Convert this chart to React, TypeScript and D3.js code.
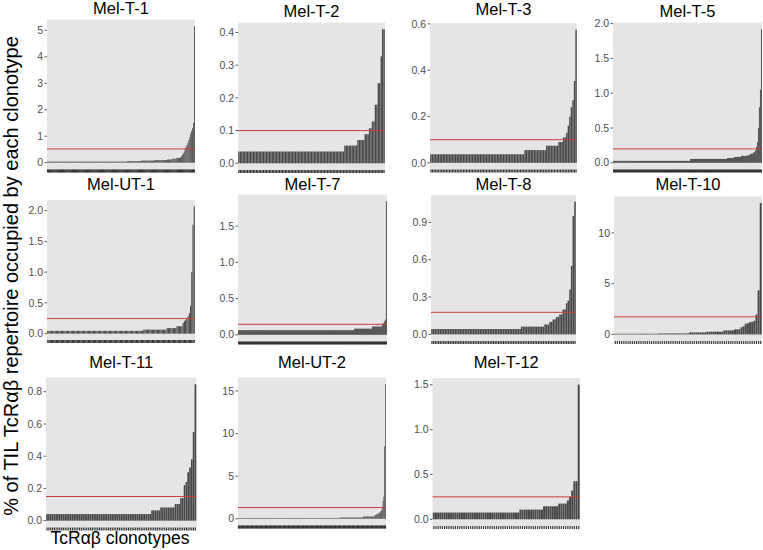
import React from "react";
import * as d3 from "d3";

const W = 763;
const H = 550;

const panelNames = [
  "Mel-T-1", "Mel-T-2", "Mel-T-3", "Mel-T-5",
  "Mel-UT-1", "Mel-T-7", "Mel-T-8", "Mel-T-10",
  "Mel-T-11", "Mel-UT-2", "Mel-T-12",
];

// % of repertoire occupied by each clonotype (sorted ascending)
const melT1 = [
  0.04, 0.04, 0.04, 0.04, 0.04, 0.04, 0.04, 0.04, 0.04, 0.04,
  0.04, 0.04, 0.04, 0.04, 0.04, 0.04, 0.04, 0.04, 0.04, 0.04,
  0.04, 0.04, 0.04, 0.04, 0.04, 0.04, 0.04, 0.04, 0.04, 0.04,
  0.04, 0.04, 0.04, 0.04, 0.04, 0.04, 0.04, 0.04, 0.04, 0.04,
  0.04, 0.04, 0.04, 0.04, 0.04, 0.04, 0.04, 0.04, 0.04, 0.04,
  0.04, 0.04, 0.04, 0.04, 0.04, 0.04, 0.04, 0.04, 0.04, 0.04,
  0.04, 0.04, 0.04, 0.04, 0.04, 0.04, 0.04, 0.04, 0.04, 0.04,
  0.04, 0.04, 0.04, 0.04, 0.04, 0.04, 0.04, 0.04, 0.04, 0.04,
  0.04, 0.04, 0.04, 0.04, 0.04, 0.04,
  0.06, 0.06, 0.06, 0.06, 0.06, 0.06, 0.06, 0.06, 0.06, 0.06,
  0.06, 0.06, 0.06, 0.06, 0.06,
  0.08, 0.08, 0.08, 0.08, 0.08, 0.08, 0.08, 0.08, 0.08, 0.08,
  0.08, 0.08, 0.08, 0.08, 0.08,
  0.1, 0.1, 0.1, 0.1, 0.1, 0.1, 0.1, 0.1, 0.1, 0.1,
  0.1, 0.1, 0.1,
  0.12, 0.12, 0.12, 0.12, 0.12,
  0.15, 0.15, 0.15, 0.15, 0.15,
  0.18, 0.18, 0.18, 0.18,
  0.2, 0.24, 0.3, 0.35, 0.42,
  0.55, 0.6, 0.67, 0.75, 0.85, 0.95, 1.1, 1.2, 1.3, 1.5,
  5.15,
];

const melT2 = [
  0.036, 0.036, 0.036, 0.036, 0.036, 0.036, 0.036, 0.036, 0.036, 0.036,
  0.036, 0.036, 0.036, 0.036, 0.036, 0.036, 0.036, 0.036, 0.036, 0.036,
  0.036, 0.036, 0.036, 0.036, 0.036, 0.036, 0.036, 0.036, 0.036, 0.036,
  0.036, 0.036, 0.036, 0.036, 0.036, 0.036, 0.036, 0.036, 0.036, 0.036,
  0.036, 0.036, 0.036, 0.036, 0.036, 0.036, 0.036, 0.036, 0.036, 0.036,
  0.036, 0.036, 0.036, 0.036, 0.036, 0.036, 0.036, 0.036, 0.036, 0.036,
  0.036, 0.036, 0.036, 0.036, 0.036, 0.036, 0.036, 0.036, 0.036, 0.036,
  0.036, 0.036, 0.036,
  0.054, 0.054, 0.054, 0.054, 0.054, 0.054, 0.054, 0.054, 0.054,
  0.071, 0.071, 0.071, 0.071, 0.071,
  0.089, 0.089, 0.089,
  0.107, 0.107, 0.128, 0.128, 0.179, 0.179, 0.245, 0.245, 0.327, 0.41, 0.41,
];

const melT3 = [
  0.037, 0.037, 0.037, 0.037, 0.037, 0.037, 0.037, 0.037, 0.037, 0.037,
  0.037, 0.037, 0.037, 0.037, 0.037, 0.037, 0.037, 0.037, 0.037, 0.037,
  0.037, 0.037, 0.037, 0.037, 0.037, 0.037, 0.037, 0.037, 0.037, 0.037,
  0.037, 0.037, 0.037, 0.037, 0.037, 0.037, 0.037, 0.037, 0.037, 0.037,
  0.037, 0.037, 0.037, 0.037, 0.037, 0.037, 0.037, 0.037, 0.037, 0.037,
  0.037, 0.037, 0.037, 0.037, 0.037, 0.037, 0.037, 0.037, 0.037, 0.037,
  0.037,
  0.055, 0.055, 0.055, 0.055, 0.055, 0.055, 0.055, 0.055, 0.055, 0.055,
  0.055, 0.055, 0.055, 0.055,
  0.074, 0.074, 0.074, 0.074, 0.074, 0.074, 0.074, 0.074,
  0.09, 0.09, 0.09,
  0.11, 0.11,
  0.13, 0.16, 0.2, 0.24, 0.27, 0.353, 0.575,
];

const melT5 = [
  0.028, 0.028, 0.028, 0.028, 0.028, 0.028, 0.028, 0.028, 0.028, 0.028,
  0.028, 0.028, 0.028, 0.028, 0.028, 0.028, 0.028, 0.028, 0.028, 0.028,
  0.028, 0.028, 0.028, 0.028, 0.028, 0.028, 0.028, 0.028, 0.028, 0.028,
  0.028, 0.028, 0.028, 0.028, 0.028, 0.028, 0.028, 0.028, 0.028, 0.028,
  0.028, 0.028, 0.028, 0.028, 0.028, 0.028, 0.028, 0.028, 0.028, 0.028,
  0.028, 0.028, 0.028, 0.028, 0.028, 0.028, 0.028, 0.028, 0.028, 0.028,
  0.028, 0.028, 0.028, 0.028, 0.028, 0.028, 0.028, 0.028, 0.028, 0.028,
  0.028, 0.028, 0.028, 0.028, 0.028, 0.028, 0.028,
  0.056, 0.056, 0.056, 0.056, 0.056, 0.056, 0.056, 0.056, 0.056, 0.056,
  0.056, 0.056, 0.056, 0.056, 0.056, 0.056, 0.056, 0.056, 0.056, 0.056,
  0.056, 0.056, 0.056, 0.056, 0.056, 0.056, 0.056, 0.056, 0.056, 0.056,
  0.056, 0.056, 0.056, 0.056, 0.056, 0.056, 0.056,
  0.07, 0.07, 0.07, 0.07, 0.07, 0.07, 0.07,
  0.085, 0.085, 0.085, 0.085, 0.085, 0.085, 0.085,
  0.1, 0.1, 0.1, 0.1, 0.1, 0.1,
  0.11, 0.11, 0.11, 0.13, 0.13, 0.13, 0.15, 0.15,
  0.18, 0.23, 0.3, 0.5, 0.8, 1.05, 1.92,
];

const melUT1 = [
  0.045, 0.045, 0.045, 0.045, 0.045, 0.045, 0.045, 0.045, 0.045, 0.045,
  0.045, 0.045, 0.045, 0.045, 0.045, 0.045, 0.045, 0.045, 0.045, 0.045,
  0.045, 0.045, 0.045, 0.045, 0.045, 0.045, 0.045, 0.045, 0.045, 0.045,
  0.045, 0.045, 0.045, 0.045, 0.045, 0.045, 0.045, 0.045, 0.045, 0.045,
  0.045, 0.045, 0.045, 0.045, 0.045, 0.045, 0.045, 0.045, 0.045, 0.045,
  0.045, 0.045, 0.045, 0.045, 0.045, 0.045, 0.045, 0.045, 0.045, 0.045,
  0.045, 0.045, 0.045, 0.045, 0.045, 0.045, 0.045, 0.045, 0.045, 0.045,
  0.045, 0.045, 0.045, 0.045, 0.045, 0.045, 0.045, 0.045,
  0.065, 0.065, 0.065, 0.065, 0.065, 0.065, 0.065, 0.065, 0.065, 0.065,
  0.065, 0.065, 0.065, 0.065, 0.065, 0.065, 0.065, 0.065, 0.065,
  0.09, 0.09, 0.09, 0.09, 0.09, 0.09, 0.09, 0.09,
  0.12, 0.12, 0.12, 0.12, 0.12,
  0.17, 0.2, 0.22, 0.25,
  0.28, 0.33, 0.45, 1.0, 1.77, 2.07,
];

const melT7 = [
  0.064, 0.064, 0.064, 0.064, 0.064, 0.064, 0.064, 0.064, 0.064, 0.064,
  0.064, 0.064, 0.064, 0.064, 0.064, 0.064, 0.064, 0.064, 0.064, 0.064,
  0.064, 0.064, 0.064, 0.064, 0.064, 0.064, 0.064, 0.064, 0.064, 0.064,
  0.064, 0.064, 0.064, 0.064, 0.064, 0.064, 0.064, 0.064, 0.064, 0.064,
  0.064, 0.064, 0.064, 0.064, 0.064, 0.064, 0.064, 0.064, 0.064, 0.064,
  0.064, 0.064, 0.064, 0.064, 0.064, 0.064, 0.064, 0.064, 0.064, 0.064,
  0.064, 0.064, 0.064, 0.064, 0.064, 0.064, 0.064, 0.064, 0.064, 0.064,
  0.064, 0.064, 0.064, 0.064, 0.064, 0.064, 0.064, 0.064, 0.064, 0.064,
  0.064, 0.064, 0.064, 0.064, 0.064, 0.064, 0.064, 0.064, 0.064, 0.064,
  0.064, 0.064, 0.064, 0.064, 0.064, 0.064, 0.064, 0.064, 0.064, 0.064,
  0.064, 0.064, 0.064, 0.064, 0.064, 0.064, 0.064, 0.064, 0.064, 0.064,
  0.064, 0.064, 0.064, 0.064, 0.064, 0.064,
  0.085, 0.085, 0.085, 0.085, 0.085, 0.085, 0.085, 0.085, 0.085, 0.085,
  0.085, 0.085, 0.085, 0.085, 0.085, 0.085, 0.085, 0.085,
  0.115, 0.115, 0.115, 0.115, 0.115, 0.115, 0.115, 0.115, 0.115, 0.115,
  0.15, 0.16, 0.185, 0.21, 1.846,
];

const melT8 = [
  0.043, 0.043, 0.043, 0.043, 0.043, 0.043, 0.043, 0.043, 0.043, 0.043,
  0.043, 0.043, 0.043, 0.043, 0.043, 0.043, 0.043, 0.043, 0.043, 0.043,
  0.043, 0.043, 0.043, 0.043, 0.043, 0.043, 0.043, 0.043, 0.043, 0.043,
  0.043, 0.043, 0.043, 0.043, 0.043, 0.043, 0.043, 0.043, 0.043, 0.043,
  0.043, 0.043, 0.043, 0.043, 0.043, 0.043, 0.043, 0.043, 0.043, 0.043,
  0.043, 0.043, 0.043, 0.043,
  0.062, 0.062, 0.062, 0.062, 0.062, 0.062, 0.062, 0.062, 0.062, 0.062,
  0.062, 0.062, 0.062, 0.062,
  0.08, 0.08, 0.08,
  0.1, 0.1, 0.12, 0.12, 0.14, 0.14, 0.16, 0.16, 0.2, 0.2,
  0.25, 0.27, 0.36, 0.55, 0.95, 1.066,
];

const melT10 = [
  0.07, 0.07, 0.07, 0.07, 0.07, 0.07, 0.07, 0.07, 0.07, 0.07,
  0.07, 0.07, 0.07, 0.07, 0.07, 0.07, 0.07, 0.07, 0.07, 0.07,
  0.07,
  0.1, 0.1, 0.1, 0.1, 0.1, 0.1, 0.1, 0.1, 0.1, 0.1,
  0.1, 0.1, 0.1, 0.1,
  0.2, 0.2, 0.2, 0.2, 0.2, 0.2, 0.2, 0.2,
  0.27, 0.27, 0.27, 0.27, 0.27, 0.27, 0.27, 0.27,
  0.4, 0.4, 0.4, 0.4, 0.4,
  0.5, 0.5, 0.5,
  0.7, 0.8, 1.05, 1.1, 1.2, 1.24, 1.34, 1.96, 4.35, 12.94,
];

const melT11 = [
  0.041, 0.041, 0.041, 0.041, 0.041, 0.041, 0.041, 0.041, 0.041, 0.041,
  0.041, 0.041, 0.041, 0.041, 0.041, 0.041, 0.041, 0.041, 0.041, 0.041,
  0.041, 0.041, 0.041, 0.041, 0.041, 0.041, 0.041, 0.041, 0.041, 0.041,
  0.041, 0.041, 0.041, 0.041, 0.041, 0.041, 0.041, 0.041, 0.041, 0.041,
  0.041, 0.041, 0.041, 0.041, 0.041, 0.041, 0.041, 0.041, 0.041, 0.041,
  0.041, 0.041, 0.041, 0.041, 0.041, 0.041, 0.041, 0.041,
  0.064, 0.064, 0.064, 0.064, 0.064,
  0.082, 0.082, 0.082, 0.082, 0.082, 0.082, 0.082, 0.082,
  0.103, 0.103, 0.103,
  0.14, 0.14, 0.22, 0.24, 0.3, 0.33, 0.38, 0.55, 0.846,
];

const melUT2 = [
  0.08, 0.08, 0.08, 0.08, 0.08, 0.08, 0.08, 0.08, 0.08, 0.08,
  0.08, 0.08, 0.08, 0.08, 0.08, 0.08, 0.08, 0.08, 0.08, 0.08,
  0.08, 0.08, 0.08, 0.08, 0.08, 0.08, 0.08, 0.08, 0.08, 0.08,
  0.08, 0.08, 0.08, 0.08, 0.08, 0.08, 0.08, 0.08, 0.08, 0.08,
  0.08, 0.08, 0.08, 0.08, 0.08, 0.08, 0.08, 0.08, 0.08, 0.08,
  0.08, 0.08, 0.08, 0.08, 0.08, 0.08, 0.08, 0.08, 0.08, 0.08,
  0.08, 0.08, 0.08, 0.08, 0.08, 0.08, 0.08, 0.08, 0.08, 0.08,
  0.08, 0.08, 0.08, 0.08, 0.08, 0.08, 0.08, 0.08, 0.08, 0.08,
  0.08, 0.08, 0.08, 0.08, 0.08, 0.08, 0.08, 0.08, 0.08, 0.08,
  0.08, 0.08, 0.08, 0.08, 0.08, 0.08, 0.08, 0.08, 0.08, 0.08,
  0.08, 0.08, 0.08, 0.08, 0.08, 0.08, 0.08, 0.08, 0.08, 0.08,
  0.08, 0.08, 0.08, 0.08, 0.08, 0.08, 0.08, 0.08, 0.08, 0.08,
  0.08, 0.08, 0.08, 0.08,
  0.15, 0.15, 0.15, 0.15, 0.15, 0.15, 0.15, 0.15, 0.15, 0.15,
  0.15, 0.15, 0.15, 0.15, 0.15, 0.15, 0.15, 0.15, 0.15, 0.15,
  0.15, 0.15, 0.15, 0.15, 0.15, 0.15, 0.15, 0.15,
  0.27, 0.27, 0.27, 0.27, 0.27, 0.27, 0.27, 0.27, 0.27, 0.27,
  0.27, 0.27, 0.27, 0.27,
  0.4, 0.45, 0.5, 0.55, 0.6, 0.65,
  0.75, 0.86, 1.0,
  1.45, 2.1, 2.6, 8.5, 15.8,
];

const melT12 = [
  0.075, 0.075, 0.075, 0.075, 0.075, 0.075, 0.075, 0.075, 0.075, 0.075,
  0.075, 0.075, 0.075, 0.075, 0.075, 0.075, 0.075, 0.075, 0.075, 0.075,
  0.075, 0.075, 0.075, 0.075, 0.075, 0.075, 0.075, 0.075, 0.075, 0.075,
  0.075, 0.075, 0.075, 0.075, 0.075, 0.075, 0.075, 0.075, 0.075, 0.075,
  0.108, 0.108, 0.108, 0.108, 0.108, 0.108, 0.108, 0.108, 0.108, 0.108,
  0.108,
  0.145, 0.145, 0.145, 0.145, 0.145, 0.145, 0.145,
  0.175, 0.175, 0.175, 0.175,
  0.21, 0.25, 0.32, 0.425, 0.425, 1.5,
];

const panelValues = [
  melT1, melT2, melT3, melT5,
  melUT1, melT7, melT8, melT10,
  melT11, melUT2, melT12,
];

// red reference line per panel
const refLines = [0.52, 0.1, 0.1, 0.2, 0.245, 0.145, 0.177, 1.73, 0.15, 1.32, 0.25];

const yTickValues = [
  [0, 1, 2, 3, 4, 5],
  [0, 0.1, 0.2, 0.3, 0.4],
  [0, 0.2, 0.4, 0.6],
  [0, 0.5, 1, 1.5, 2],
  [0, 0.5, 1, 1.5, 2],
  [0, 0.5, 1, 1.5],
  [0, 0.3, 0.6, 0.9],
  [0, 5, 10],
  [0, 0.2, 0.4, 0.6, 0.8],
  [0, 5, 10, 15],
  [0, 0.5, 1, 1.5],
];
const yTickLabels = [
  ["0", "1", "2", "3", "4", "5"],
  ["0.0", "0.1", "0.2", "0.3", "0.4"],
  ["0.0", "0.2", "0.4", "0.6"],
  ["0.0", "0.5", "1.0", "1.5", "2.0"],
  ["0.0", "0.5", "1.0", "1.5", "2.0"],
  ["0.0", "0.5", "1.0", "1.5"],
  ["0.0", "0.3", "0.6", "0.9"],
  ["0", "5", "10"],
  ["0.0", "0.2", "0.4", "0.6", "0.8"],
  ["0", "5", "10", "15"],
  ["0.0", "0.5", "1.0", "1.5"],
];

const yTitle = "% of TIL TcRαβ repertoire occupied by each clonotype";
const xTitle = "TcRαβ clonotypes";

// ---- layout (positions only) ----
const panelBoxes: [number, number, number, number][] = [
  [47, 19.5, 148, 150],
  [238, 22.5, 147, 147.5],
  [430, 23, 147, 146.5],
  [613, 22.5, 149, 147],
  [47, 200, 148, 140],
  [238, 194.5, 149, 147],
  [431, 195, 145, 146],
  [614, 196.5, 148, 144.5],
  [46, 377.5, 150.5, 150],
  [238, 377.5, 148, 148],
  [432.5, 378, 147.5, 148],
];
const titleBaselines = [14, 16.5, 15, 16.5, 190, 190, 190, 190, 368, 368, 368];

const FONT = "'Liberation Sans', Arial, Helvetica, sans-serif";

function Panel({ idx }: { idx: number }) {
  const vals = panelValues[idx];
  const [left, top, w, h] = panelBoxes[idx];
  const n = vals.length;
  const maxV = d3.max(vals) as number;
  const y = d3.scaleLinear().domain([-0.05 * maxV, 1.05 * maxV]).range([top + h, top]);
  const x = d3.scaleLinear().domain([0.4, n + 0.6]).range([left, left + w]);
  const bw = x(0.9) - x(0);
  const bottom = top + h;
  const ticks = yTickValues[idx];
  return (
    <g>
      <text
        x={left + w / 2}
        y={titleBaselines[idx]}
        textAnchor="middle"
        fontSize={16.5}
        fontFamily={FONT}
        fill="#000"
      >
        {panelNames[idx]}
      </text>
      <rect x={left} y={top} width={w} height={h} fill="#e5e5e5" />
      {vals.map((v, i) => (
        <rect
          key={i}
          x={x(i + 1) - bw / 2}
          y={y(v)}
          width={bw}
          height={y(0) - y(v)}
          fill="#464646"
        />
      ))}
      <line
        x1={left}
        x2={left + w}
        y1={y(refLines[idx])}
        y2={y(refLines[idx])}
        stroke="#c8403c"
        strokeWidth={1}
      />
      {vals.map((v, i) => (
        <line
          key={"t" + i}
          x1={x(i + 1)}
          x2={x(i + 1)}
          y1={bottom}
          y2={bottom + 3}
          stroke="#333"
          strokeWidth={1.2}
        />
      ))}
      {ticks.map((t, k) => (
        <g key={"y" + k}>
          <line x1={left - 2.5} x2={left} y1={y(t)} y2={y(t)} stroke="#333" strokeWidth={0.8} />
          <text
            x={left - 4}
            y={y(t)}
            dy="0.35em"
            textAnchor="end"
            fontSize={10.5}
            fontFamily={FONT}
            fill="#4d4d4d"
          >
            {yTickLabels[idx][k]}
          </text>
        </g>
      ))}
    </g>
  );
}

export default function App() {
  return (
    <svg
      width={W}
      height={H}
      style={{ position: "absolute", left: 0, top: 0, background: "#fff" }}
    >
      <rect x={0} y={0} width={W} height={H} fill="#fff" />
      {panelNames.map((_, i) => (
        <Panel key={i} idx={i} />
      ))}
      <text
        transform="translate(18,276) rotate(-90)"
        textAnchor="middle"
        fontSize={20}
        fontFamily={FONT}
        fill="#000"
      >
        {yTitle}
      </text>
      <text x={120} y={544} textAnchor="middle" fontSize={17.5} fontFamily={FONT} fill="#000">
        {xTitle}
      </text>
    </svg>
  );
}
